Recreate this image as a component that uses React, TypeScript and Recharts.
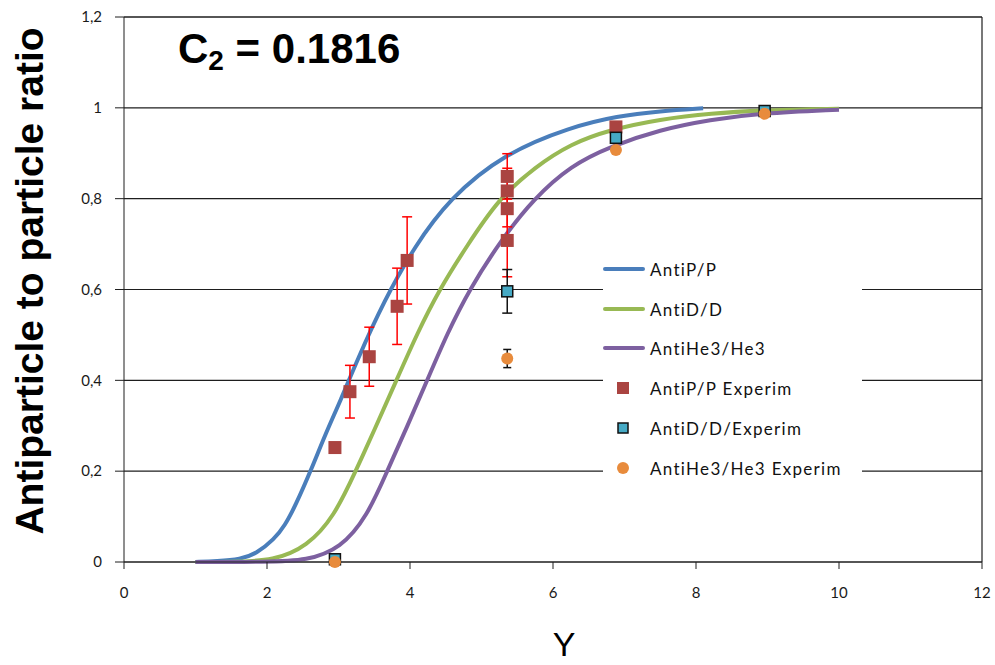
import { ComposedChart, Line, Scatter, XAxis, YAxis, CartesianGrid, ReferenceLine, ErrorBar, Legend } from "recharts";

// theoretical curves
const antiPCurve = [
  { x: 1, y: 0 }, { x: 1.3, y: 0.002 }, { x: 1.63, y: 0.006 }, { x: 1.85, y: 0.018 },
  { x: 2.1, y: 0.05 }, { x: 2.25, y: 0.08 }, { x: 2.4, y: 0.125 }, { x: 2.61, y: 0.2 },
  { x: 2.82, y: 0.283 }, { x: 3.03, y: 0.356 }, { x: 3.26, y: 0.444 }, { x: 3.64, y: 0.576 },
  { x: 4.06, y: 0.694 }, { x: 4.55, y: 0.8 }, { x: 5.31, y: 0.899 }, { x: 6.25, y: 0.958 },
  { x: 6.9, y: 0.982 }, { x: 7.5, y: 0.993 }, { x: 8.1, y: 0.999 },
];

const antiDCurve = [
  { x: 1, y: 0 }, { x: 1.5, y: 0 }, { x: 2.1, y: 0.003 }, { x: 2.56, y: 0.034 },
  { x: 2.94, y: 0.1 }, { x: 3.24, y: 0.2 }, { x: 3.5, y: 0.29 }, { x: 3.81, y: 0.4 },
  { x: 4.1, y: 0.503 }, { x: 4.41, y: 0.6 }, { x: 4.8, y: 0.697 }, { x: 5.24, y: 0.8 },
  { x: 5.75, y: 0.87 }, { x: 6.25, y: 0.921 }, { x: 6.8, y: 0.952 }, { x: 7.5, y: 0.975 },
  { x: 8.2, y: 0.988 }, { x: 9, y: 0.995 }, { x: 10, y: 0.998 },
];

const antiHe3Curve = [
  { x: 1, y: 0 }, { x: 2, y: 0 }, { x: 2.56, y: 0.003 }, { x: 3.03, y: 0.03 },
  { x: 3.4, y: 0.1 }, { x: 3.68, y: 0.2 }, { x: 3.96, y: 0.298 }, { x: 4.24, y: 0.4 },
  { x: 4.52, y: 0.503 }, { x: 4.83, y: 0.6 }, { x: 5.27, y: 0.708 }, { x: 5.73, y: 0.8 },
  { x: 6.25, y: 0.873 }, { x: 6.8, y: 0.915 }, { x: 7.5, y: 0.952 }, { x: 8.2, y: 0.974 },
  { x: 8.9, y: 0.988 }, { x: 10, y: 0.996 },
];

// experimental points (err = half length of the error bar)
const antiPExp = [
  { x: 2.95, y: 0.252 }, { x: 3.16, y: 0.375, err: 0.058 }, { x: 3.43, y: 0.452, err: 0.065 },
  { x: 3.82, y: 0.563, err: 0.084 }, { x: 3.96, y: 0.664, err: 0.096 },
  { x: 5.36, y: 0.849, err: 0.05 }, { x: 5.36, y: 0.817, err: 0.05 },
  { x: 5.36, y: 0.778, err: 0.04 }, { x: 5.36, y: 0.708, err: 0.08 }, { x: 6.88, y: 0.958 },
];

const antiDExp = [
  { x: 2.95, y: 0.006 }, { x: 5.36, y: 0.596, err: 0.048 }, { x: 6.88, y: 0.934 }, { x: 8.96, y: 0.993 },
];

const antiHe3Exp = [
  { x: 2.95, y: 0 }, { x: 5.36, y: 0.448, err: 0.02 }, { x: 6.88, y: 0.907 }, { x: 8.96, y: 0.987 },
];

const xTicks = [0, 2, 4, 6, 8, 10, 12];
const yTicks = [0, 0.2, 0.4, 0.6, 0.8, 1, 1.2];

const BLUE = "#4A7EBB";
const GREEN = "#98B954";
const PURPLE = "#7D60A0";
const RED = "#AA4441";
const TEAL = "#46AAC5";
const ORANGE = "#E88B3C";

const legendItems = [
  { name: "AntiP/P", kind: "line", color: BLUE },
  { name: "AntiD/D", kind: "line", color: GREEN },
  { name: "AntiHe3/He3", kind: "line", color: PURPLE },
  { name: "AntiP/P Experim", kind: "square", color: RED },
  { name: "AntiD/D/Experim", kind: "boxed", color: TEAL },
  { name: "AntiHe3/He3 Experim", kind: "circle", color: ORANGE },
];

const TICK_FONT = "Lato, 'Open Sans', sans-serif";
const AXIS = "#1e1e1e";

const RedSquare = (p: any) => <rect x={p.cx - 6.5} y={p.cy - 6.5} width={13} height={13} fill={RED} />;
const TealSquare = (p: any) => (
  <rect x={p.cx - 5.5} y={p.cy - 5.5} width={11} height={11} fill={TEAL} stroke="#111" strokeWidth={1.5} />
);
const OrangeDot = (p: any) => <circle cx={p.cx} cy={p.cy} r={6} fill={ORANGE} />;

const LegendBox = () => (
  <div style={{ width: 259, height: 240, background: "#fff", position: "relative" }}>
    {legendItems.map((it, i) => (
      <div
        key={it.name}
        style={{ position: "absolute", left: 0, top: [19, 59, 98, 138, 178, 218][i] - 10, height: 20, display: "flex", alignItems: "center" }}
      >
        <svg width={47} height={20}>
          {it.kind === "line" && <line x1={2} y1={10} x2={40} y2={10} stroke={it.color} strokeWidth={4} strokeLinecap="round" />}
          {it.kind === "square" && <rect x={14} y={4} width={12} height={12} fill={it.color} />}
          {it.kind === "boxed" && <rect x={15} y={5} width={10} height={10} fill={it.color} stroke="#111" strokeWidth={1.5} />}
          {it.kind === "circle" && <circle cx={20} cy={10} r={6} fill={it.color} />}
        </svg>
        <span style={{ fontFamily: TICK_FONT, fontSize: 17, letterSpacing: 1.3, color: "#111", whiteSpace: "nowrap" }}>{it.name}</span>
      </div>
    ))}
  </div>
);

const YTitle = () => (
  <text x={43} y={281} transform="rotate(-90 43 281)" textAnchor="middle" fontFamily="'Liberation Sans', Arial, sans-serif" fontWeight="bold" fontSize={39} fill="#000">
    Antiparticle to particle ratio
  </text>
);

const XTitle = () => (
  <text x={564} y={656} textAnchor="middle" fontFamily="'Liberation Sans', Arial, sans-serif" fontSize={34} fill="#000">
    Y
  </text>
);

const App = () => {
  return (
    <div style={{ position: "absolute", left: 0, top: 0, width: 995, height: 665, background: "#fff" }}>
      <ComposedChart width={995} height={665} margin={{ top: 17, right: 13, left: 0, bottom: 0 }}>
        <CartesianGrid vertical={false} stroke={AXIS} strokeWidth={1.2} />
        <XAxis
          dataKey="x"
          type="number"
          domain={[0, 12]}
          ticks={xTicks}
          interval={0}
          height={103}
          tickSize={7}
          tickMargin={18}
          stroke={AXIS}
          tick={{ fontFamily: TICK_FONT, fontSize: 15, fill: "#1a1a1a" }}
          label={<XTitle />}
        />
        <YAxis
          type="number"
          domain={[0, 1.2]}
          ticks={yTicks}
          interval={0}
          width={124}
          tickSize={9}
          tickMargin={13}
          stroke={AXIS}
          tickFormatter={(v: number) => String(v).replace(".", ",")}
          tick={{ fontFamily: TICK_FONT, fontSize: 15, fill: "#1a1a1a" }}
          label={<YTitle />}
        />
        <ReferenceLine y={1.2} stroke={AXIS} strokeWidth={1.2} />
        <ReferenceLine x={12} stroke={AXIS} strokeWidth={1.2} />
        <Line data={antiPCurve} dataKey="y" name="AntiP/P" type="basis" stroke={BLUE} strokeWidth={4} dot={false} activeDot={false} isAnimationActive={false} />
        <Line data={antiDCurve} dataKey="y" name="AntiD/D" type="basis" stroke={GREEN} strokeWidth={4} dot={false} activeDot={false} isAnimationActive={false} />
        <Line data={antiHe3Curve} dataKey="y" name="AntiHe3/He3" type="basis" stroke={PURPLE} strokeWidth={4} dot={false} activeDot={false} isAnimationActive={false} />
        <Scatter data={antiPExp} dataKey="y" name="AntiP/P Experim" shape={RedSquare} isAnimationActive={false}>
          <ErrorBar dataKey="err" direction="y" stroke="#FF0000" strokeWidth={1.5} width={5} />
        </Scatter>
        <Scatter data={antiDExp} dataKey="y" name="AntiD/D/Experim" shape={TealSquare} isAnimationActive={false}>
          <ErrorBar dataKey="err" direction="y" stroke="#111" strokeWidth={1.5} width={5} />
        </Scatter>
        <Scatter data={antiHe3Exp} dataKey="y" name="AntiHe3/He3 Experim" shape={OrangeDot} isAnimationActive={false}>
          <ErrorBar dataKey="err" direction="y" stroke="#111" strokeWidth={1.5} width={4} />
        </Scatter>
        <Legend
          layout="vertical"
          align="center"
          verticalAlign="middle"
          content={<LegendBox />}
          wrapperStyle={{ left: 603, top: 250, width: 259, height: 240 }}
        />
      </ComposedChart>
      <svg width={995} height={120} style={{ position: "absolute", left: 0, top: 0, pointerEvents: "none" }}>
        <text x={178} y={63} fontFamily="'Liberation Sans', Arial, sans-serif" fontWeight="bold" fontSize={42} fill="#000">
          C<tspan fontSize={28} dy={7}>2</tspan>
          <tspan fontSize={42} dy={-7}> = 0.1816</tspan>
        </text>
      </svg>
    </div>
  );
};

export default App;
